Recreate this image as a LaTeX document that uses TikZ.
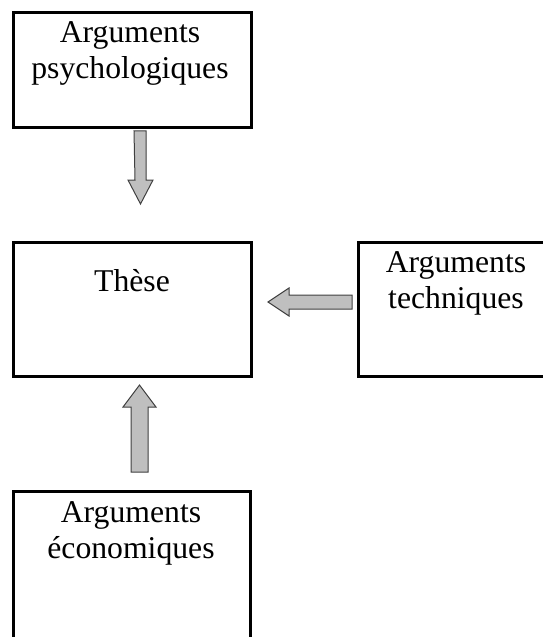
\documentclass[tikz,border=0pt]{standalone}
\usepackage{fontspec}
\setmainfont{Liberation Serif}
\usetikzlibrary{calc}
\begin{document}
\begin{tikzpicture}[x=1bp,y=-1bp,
  box/.style={draw=black,line width=2.6bp,inner sep=0pt,anchor=north west},
  lbl/.style={anchor=base,inner sep=0pt,font=\fontsize{31.7bp}{36bp}\selectfont},
  blk/.style={draw=black!75,fill=black!25,line width=1bp,line join=miter}]
\useasboundingbox (0,0) rectangle (543,637);
\clip (0,0) rectangle (543,637);
% boxes
\node[box,minimum width=238bp,minimum height=115bp] (psy) at (12,11) {};
\node[box,minimum width=238bp,minimum height=134bp] (these) at (12,241) {};
\node[box,minimum width=260bp,minimum height=134bp] (tech) at (357,241) {};
\node[box,minimum width=237bp,minimum height=170bp] (eco) at (12,490) {};
% labels
\node[lbl] (psy1) at (130,42.7) {Arguments};
\node[lbl] (psy2) at (130,78.7) {psychologiques};
\node[lbl] (th) at (132,291) {Thèse};
\node[lbl] (te1) at (456,272.3) {Arguments};
\node[lbl] (te2) at (456,308.5) {techniques};
\node[lbl] (ec1) at (131,522) {Arguments};
\node[lbl] (ec2) at (131,558.5) {économiques};
% block arrows
\coordinate (a1) at (140,131);
\draw[blk] (a1) ++(-6,0) -- ++(12,0) -- ++(0,49) -- ++(7,0) -- ++(-12.5,24) -- ++(-12.5,-24) -- ++(7,0) -- cycle;
\coordinate (a2) at (352,302);
\draw[blk] (a2) ++(0,-7) -- ++(0,14) -- ++(-63,0) -- ++(0,7) -- ++(-21,-14) -- ++(21,-14) -- ++(0,7) -- cycle;
\coordinate (a3) at (139.5,472);
\draw[blk] (a3) ++(-8.5,0) -- ++(17,0) -- ++(0,-65) -- ++(8,0) -- ++(-16.5,-22) -- ++(-16.5,22) -- ++(8,0) -- cycle;
\end{tikzpicture}
\end{document}
